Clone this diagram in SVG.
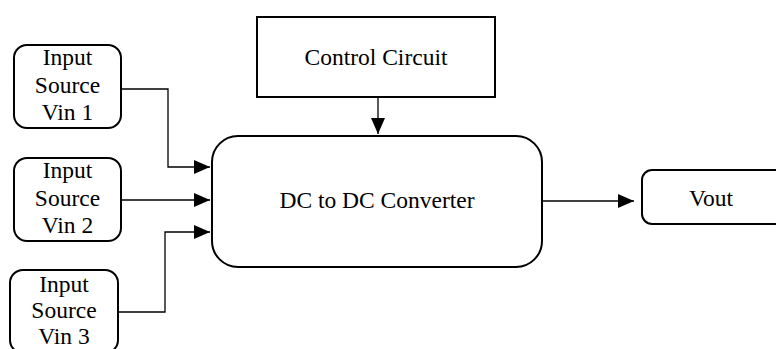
<svg xmlns="http://www.w3.org/2000/svg" width="776" height="349" viewBox="0 0 776 349">
  <style>
    .box { fill: #fff; stroke: #000; stroke-width: 2; }
    .lbl { font-family: 'Liberation Serif', serif; font-size: 23.5px; fill: #000; text-anchor: middle; }
    .wire { fill: none; stroke: #000; stroke-width: 1.3; marker-end: url(#arrow); }
  </style>
  <defs>
    <marker id="arrow" markerWidth="16" markerHeight="14" refX="16" refY="7" orient="auto" markerUnits="userSpaceOnUse">
      <path d="M0,0 L16,7 L0,14 Z" fill="#000"/>
    </marker>
  </defs>
  <rect width="776" height="349" fill="#fff"/>

  <g id="input1">
    <rect class="box" x="14" y="45" width="107" height="83" rx="13"/>
    <text class="lbl" font-family="Liberation Serif" x="67.5" y="65">Input</text>
    <text class="lbl" font-family="Liberation Serif" x="67.5" y="93">Source</text>
    <text class="lbl" font-family="Liberation Serif" x="67.5" y="120">Vin 1</text>
  </g>

  <g id="input2">
    <rect class="box" x="14" y="158" width="107" height="83" rx="13"/>
    <text class="lbl" font-family="Liberation Serif" x="67.5" y="178">Input</text>
    <text class="lbl" font-family="Liberation Serif" x="67.5" y="206">Source</text>
    <text class="lbl" font-family="Liberation Serif" x="67.5" y="233">Vin 2</text>
  </g>

  <g id="input3">
    <rect class="box" x="10" y="270" width="108" height="83" rx="13"/>
    <text class="lbl" font-family="Liberation Serif" x="64" y="292">Input</text>
    <text class="lbl" font-family="Liberation Serif" x="64" y="318">Source</text>
    <text class="lbl" font-family="Liberation Serif" x="64" y="344">Vin 3</text>
  </g>

  <g id="control">
    <rect class="box" x="257" y="17" width="238" height="80"/>
    <text class="lbl" font-family="Liberation Serif" x="376" y="65">Control Circuit</text>
  </g>

  <g id="converter">
    <rect class="box" x="212" y="136" width="330" height="131" rx="26"/>
    <text class="lbl" font-family="Liberation Serif" x="377" y="208">DC to DC Converter</text>
  </g>

  <g id="vout">
    <rect class="box" x="642" y="170" width="150" height="54" rx="10"/>
    <text class="lbl" font-family="Liberation Serif" x="711" y="206">Vout</text>
  </g>

  <g id="connectors">
    <polyline class="wire" points="121,89 168,89 168,167 210,167"/>
    <polyline class="wire" points="121,200 210,200"/>
    <polyline class="wire" points="118,312 165,312 165,232 210,232"/>
    <polyline class="wire" points="378,97 378,134"/>
    <polyline class="wire" points="542,201 634,201"/>
  </g>
</svg>
